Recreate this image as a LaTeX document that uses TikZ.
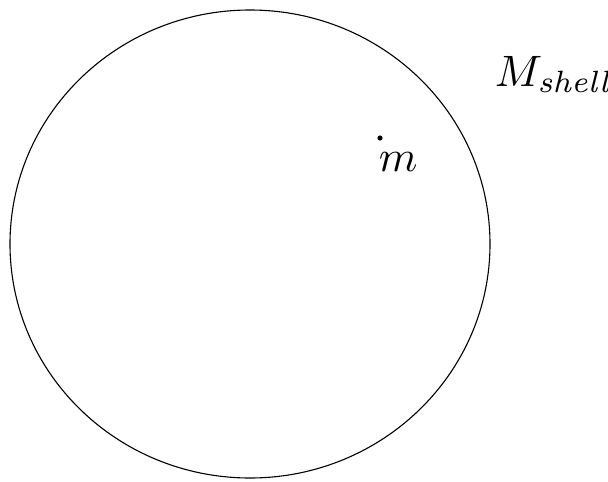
\documentclass[tikz,border=0pt]{standalone}
\begin{document}
\begin{tikzpicture}[x=1pt,y=-1pt,
    shellline/.style={line width=1.1pt},
    masslabel/.style={inner sep=0pt, anchor=base west, transform shape}]
    \useasboundingbox (0,0) rectangle (608,482);
    % the shell
    \coordinate (centre) at (250,244);
    \draw[shellline] (centre) ellipse (240 and 234);
    % point mass inside
    \fill (380,138) circle (2.6pt) coordinate (dot);
    \node[masslabel, scale=4.4] (m) at (378,171) {$m$};
    % label of the shell
    \node[masslabel, scale=4.4] (Mshell) at (494,86) {$M_{\mathit{shell}}$};
\end{tikzpicture}
\end{document}
